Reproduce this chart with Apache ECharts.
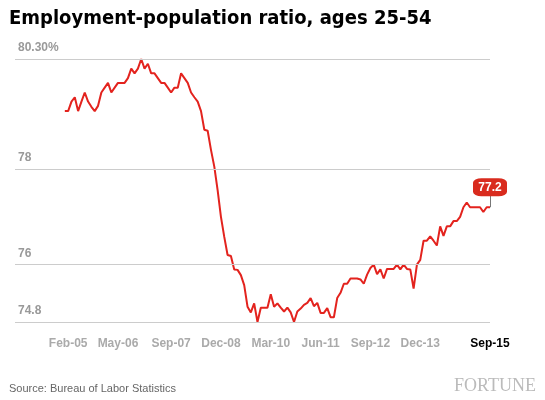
<!DOCTYPE html>
<html><head><meta charset="utf-8">
<script src="https://cdn.jsdelivr.net/npm/echarts@6/dist/echarts.min.js"></script>
<style>body{margin:0}#c{width:545px;height:400px}</style></head>
<body><div id="c"></div>
<script>
const title = 'Employment-population ratio, ages 25-54';
const source = 'Source: Bureau of Labor Statistics';
const monthNames = ['Jan','Feb','Mar','Apr','May','Jun','Jul','Aug','Sep','Oct','Nov','Dec'];
const shownLabels = ['Feb-05','May-06','Sep-07','Dec-08','Mar-10','Jun-11','Sep-12','Dec-13','Sep-15'];
const gridValues = [74.8, 76, 78, 80.3];
const gridLabels = ['74.8', '76', '78', '80.30%'];
const leadingBlank = 15;
// Monthly values Jan-2005 .. Sep-2015
const ratio = [
79.21,79.21,79.41,79.5,79.21,79.41,79.6,79.41,79.3,79.21,79.32,79.6,
79.7,79.8,79.6,79.7,79.8,79.8,79.8,79.9,80.1,80.0,80.1,80.3,
80.1,80.2,80.0,80.0,79.9,79.8,79.8,79.7,79.6,79.7,79.7,80.0,
79.9,79.8,79.6,79.5,79.41,79.21,78.82,78.8,78.4,78.05,77.56,77.0,
76.58,76.2,76.18,75.9,75.89,75.78,75.57,75.12,75.0,75.19,74.8,75.1,
75.1,75.1,75.38,75.12,75.19,75.1,75.02,75.1,75.0,74.8,75.02,75.08,
75.16,75.2,75.3,75.13,75.2,74.99,74.99,75.09,74.9,74.9,75.3,75.41,
75.6,75.6,75.71,75.71,75.71,75.69,75.6,75.79,75.93,76.0,75.8,75.9,
75.71,75.91,75.91,75.91,76.0,75.9,76.0,75.91,75.9,75.5,76.0,76.1,
76.5,76.5,76.59,76.5,76.4,76.8,76.6,76.8,76.8,76.91,76.91,77.0,
77.2,77.3,77.2,77.2,77.2,77.2,77.1,77.2,77.2
];
const cats = [], vals = [];
for (let i = 0; i < leadingBlank; i++) { cats.push('b' + i); vals.push(null); }
ratio.forEach((v, i) => {
  const m = i % 12, y = 5 + Math.floor(i / 12);
  cats.push(monthNames[m] + '-' + String(y).padStart(2, '0'));
  vals.push(v);
});
const lastCat = cats[cats.length - 1], lastVal = ratio[ratio.length - 1];
const chart = echarts.init(document.getElementById('c'));
chart.setOption({
  animation: false,
  title: [
    {text: title, left: 4, top: 4, textStyle: {fontFamily: 'DejaVu Sans Condensed, sans-serif', fontWeight: 'bold', fontSize: 20, color: '#000'}},
    {text: source, left: 4, top: 378, textStyle: {fontFamily: 'Liberation Sans, sans-serif', fontWeight: 'normal', fontSize: 11, color: '#666'}},
    {text: 'FORTUNE', left: 449, top: 372, textStyle: {fontFamily: 'Liberation Serif, serif', fontWeight: 'normal', fontSize: 18, color: '#bbb'}}
  ],
  grid: {left: 15, right: 55, top: 59, bottom: 78},
  xAxis: {
    type: 'category', data: cats, boundaryGap: false,
    axisLine: {show: false}, axisTick: {show: false},
    axisLabel: {
      interval: (i, v) => shownLabels.includes(v),
      margin: 16, fontSize: 12, fontWeight: 'bold', color: '#aaa', fontFamily: 'Liberation Sans, sans-serif',
      formatter: v => v === 'Sep-15' ? '{k|' + v + '}' : v,
      rich: {k: {color: '#000', fontWeight: 'bold', fontSize: 12, fontFamily: 'Liberation Sans, sans-serif'}}
    }
  },
  yAxis: {type: 'value', min: 74.8, max: 80.3, show: false, splitLine: {show: false}},
  series: [{
    type: 'line', data: vals, symbol: 'none', connectNulls: false,
    lineStyle: {color: '#e3231e', width: 2},
    markLine: {
      silent: true, symbol: 'none', animation: false,
      lineStyle: {color: '#ccc', type: 'solid', width: 1},
      data: gridValues.map((v, i) => ({
        yAxis: v,
        label: {show: true, position: 'insideStartTop', formatter: gridLabels[i], color: '#999', fontSize: 12, fontWeight: 'bold', fontFamily: 'Liberation Sans, sans-serif', distance: [3, 5]}
      })).concat([[
        {coord: [lastCat, lastVal], lineStyle: {color: '#777'}, label: {show: false}},
        {coord: [lastCat, 77.47]}
      ]])
    },
    markPoint: {
      silent: true, animation: false,
      data: [{
        coord: [lastCat, lastVal], value: lastVal,
        symbol: 'roundRect', symbolSize: [34, 18], symbolOffset: [0, -20],
        itemStyle: {color: '#d92b1e'},
        label: {show: true, formatter: '{c}', color: '#fff', fontWeight: 'bold', fontSize: 12, fontFamily: 'Liberation Sans, sans-serif'}
      }]
    }
  }]
});
</script></body></html>
